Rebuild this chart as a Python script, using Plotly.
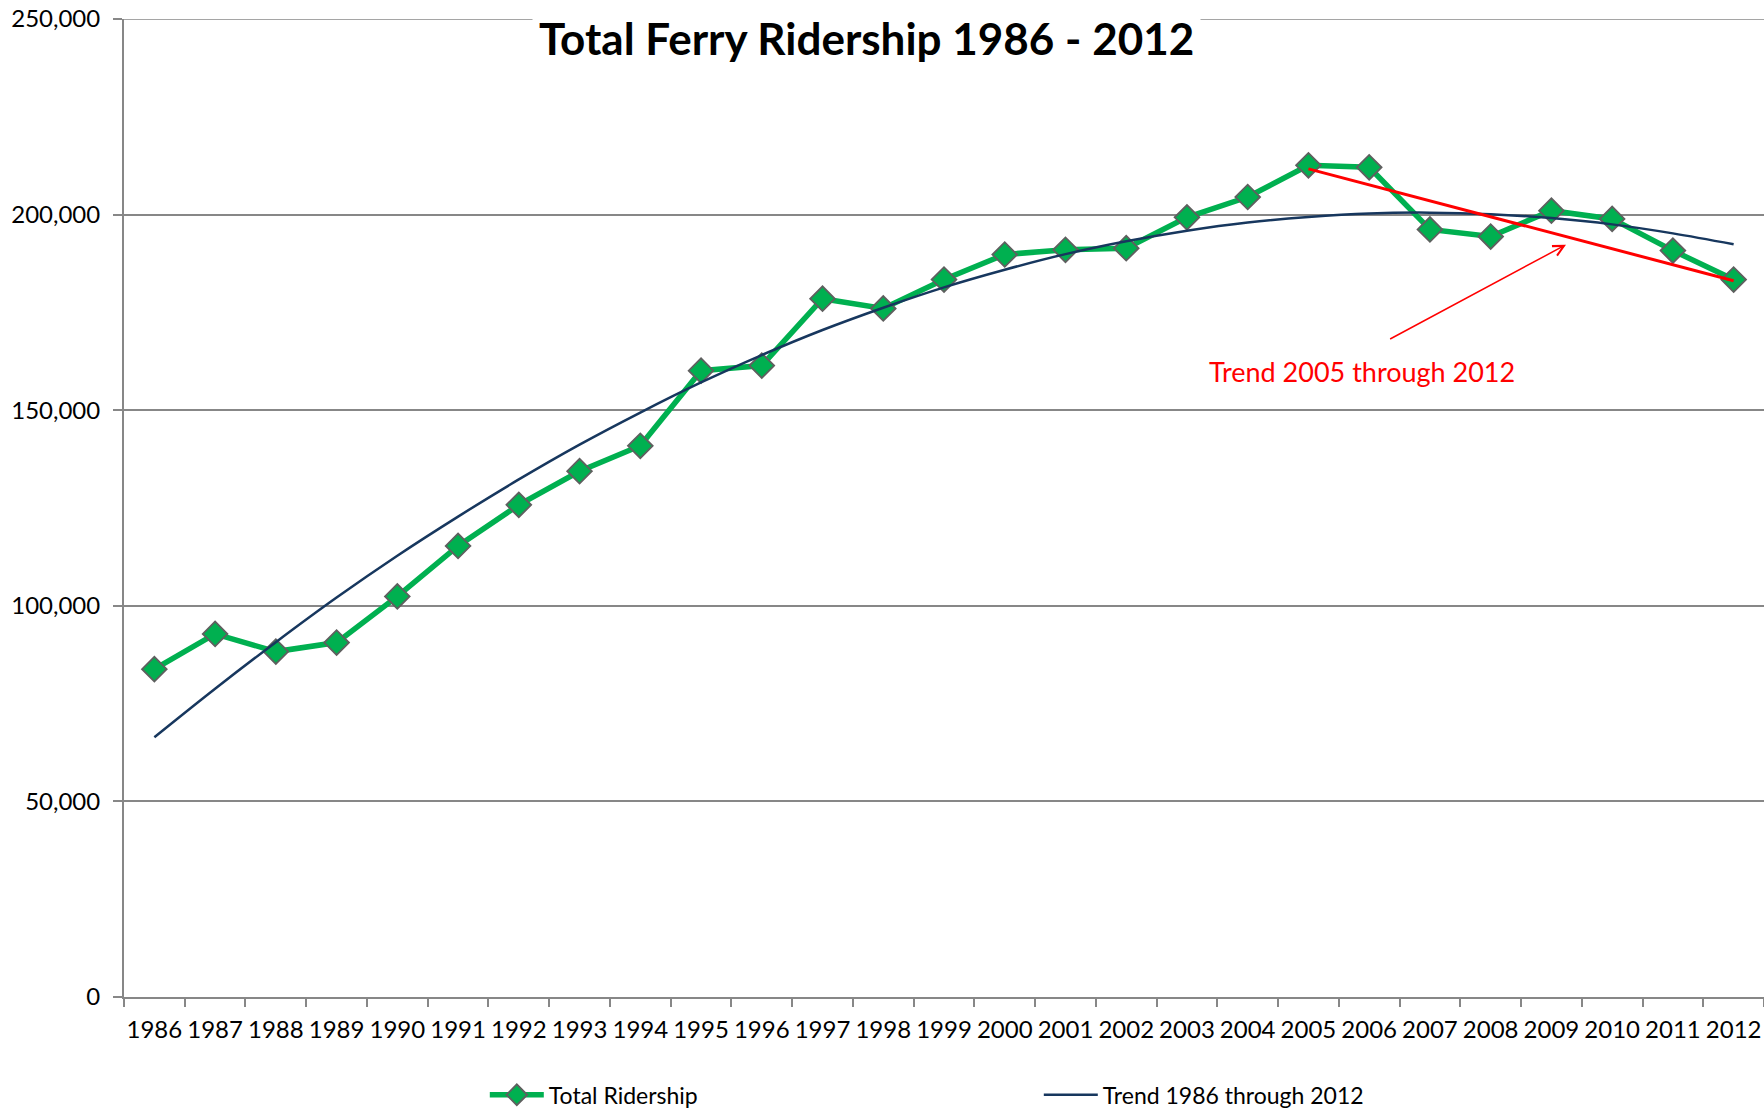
import plotly.graph_objects as go

years = [str(y) for y in range(1986, 2013)]
ridership = [83800, 92800, 88300, 90600, 102400, 115300, 125800, 134400, 140900,
             160100, 161400, 178500, 176000, 183400, 189800, 191000, 191400,
             199300, 204500, 212600, 212100, 196200, 194400, 201000, 198900,
             190800, 183400]
trend_all = [66400, 78800, 90700, 102100, 112800, 122800, 132300, 141200, 149400,
             157100, 164100, 170500, 176200, 181400, 185900, 189900, 193200,
             195900, 198000, 199400, 200300, 200500, 200100, 199100, 197500,
             195200, 192400]
trend_recent_years = ["2005", "2012"]
trend_recent = [211700, 183100]

title_text = "Total Ferry Ridership 1986 - 2012"
arrow_label = "Trend 2005 through 2012"
y_ticks = [0, 50000, 100000, 150000, 200000, 250000]
y_ticktext = ["0", "50,000", "100,000", "150,000", "200,000", "250,000"]
y_max = 250000

FONT = "Lato"
GREEN = "#00B050"
NAVY = "#17375E"
GRID = "#878787"

fig = go.Figure()
fig.add_trace(go.Scatter(
    x=years, y=ridership, name="Total Ridership", mode="lines+markers",
    line=dict(color=GREEN, width=5.5),
    marker=dict(symbol="diamond", size=19, color=GREEN,
                line=dict(color="#5F5F5F", width=1.8)),
))
fig.add_trace(go.Scatter(
    x=years, y=trend_all, name="Trend 1986 through 2012", mode="lines",
    line=dict(color=NAVY, width=2.5, shape="spline", smoothing=1.0),
))
fig.add_trace(go.Scatter(
    x=trend_recent_years, y=trend_recent, mode="lines", showlegend=False,
    line=dict(color="#FF0000", width=3),
))

fig.update_layout(
    width=1764, height=1110,
    margin=dict(l=124, r=0, t=19, b=113, autoexpand=False),
    paper_bgcolor="white", plot_bgcolor="white",
    font=dict(family=FONT, size=24, color="#000000"),
    showlegend=True,
    legend=dict(orientation="h", x=0.22, xanchor="left", y=-0.1, yanchor="middle",
                font=dict(family=FONT, size=23, color="#000000"),
                entrywidth=485, itemwidth=54, bgcolor="rgba(0,0,0,0)"),
    xaxis=dict(type="category", categoryorder="array", categoryarray=years,
               range=[-0.5, 26.5], showgrid=False, showline=True,
               linecolor=GRID, linewidth=2, ticks="outside", tickson="boundaries",
               ticklen=8, tickcolor=GRID, tickwidth=1.5, tickangle=0,
               automargin=False, ticklabeloverflow="allow",
               tickfont=dict(family=FONT, size=24, color="#000000"),
               ticklabelstandoff=10),
    yaxis=dict(range=[0, y_max], tickvals=y_ticks, ticktext=y_ticktext,
               showgrid=True, gridcolor=GRID, gridwidth=1.5,
               showline=True, linecolor=GRID, linewidth=2, automargin=False,
               ticks="outside", ticklen=9, tickcolor=GRID, tickwidth=1.5,
               ticklabeloverflow="allow",
               tickfont=dict(family=FONT, size=24, color="#000000"),
               zeroline=False, ticklabelstandoff=8),
)

# top gridline (plotly drops the gridline that sits exactly on the plot edge)
fig.add_shape(type="line", xref="paper", yref="y", x0=0, x1=1, y0=y_max, y1=y_max,
              line=dict(color=GRID, width=1.5), layer="below")

fig.add_annotation(
    text="<b>" + title_text + "</b>", xref="paper", yref="paper",
    x=(866 - 124) / 1640, y=1 - (38 - 19) / 978, xanchor="center", yanchor="middle",
    showarrow=False, bgcolor="white", borderpad=6,
    font=dict(family=FONT, size=44, color="#000000"),
)
fig.add_annotation(
    text="", x=23.24, y=192300, ax=20.32, ay=168000,
    xref="x", yref="y", axref="x", ayref="y",
    showarrow=True, arrowhead=5, arrowsize=1.4, arrowwidth=1.5, arrowcolor="#FF0000",
)
fig.add_annotation(
    text=arrow_label, x=19.88, y=159800, xref="x", yref="y",
    showarrow=False, xanchor="center", yanchor="middle",
    font=dict(family=FONT, size=27, color="#FF0000"),
)

fig.write_html("out.html", config={"displayModeBar": False},
               post_script="document.body.style.margin='0';")
